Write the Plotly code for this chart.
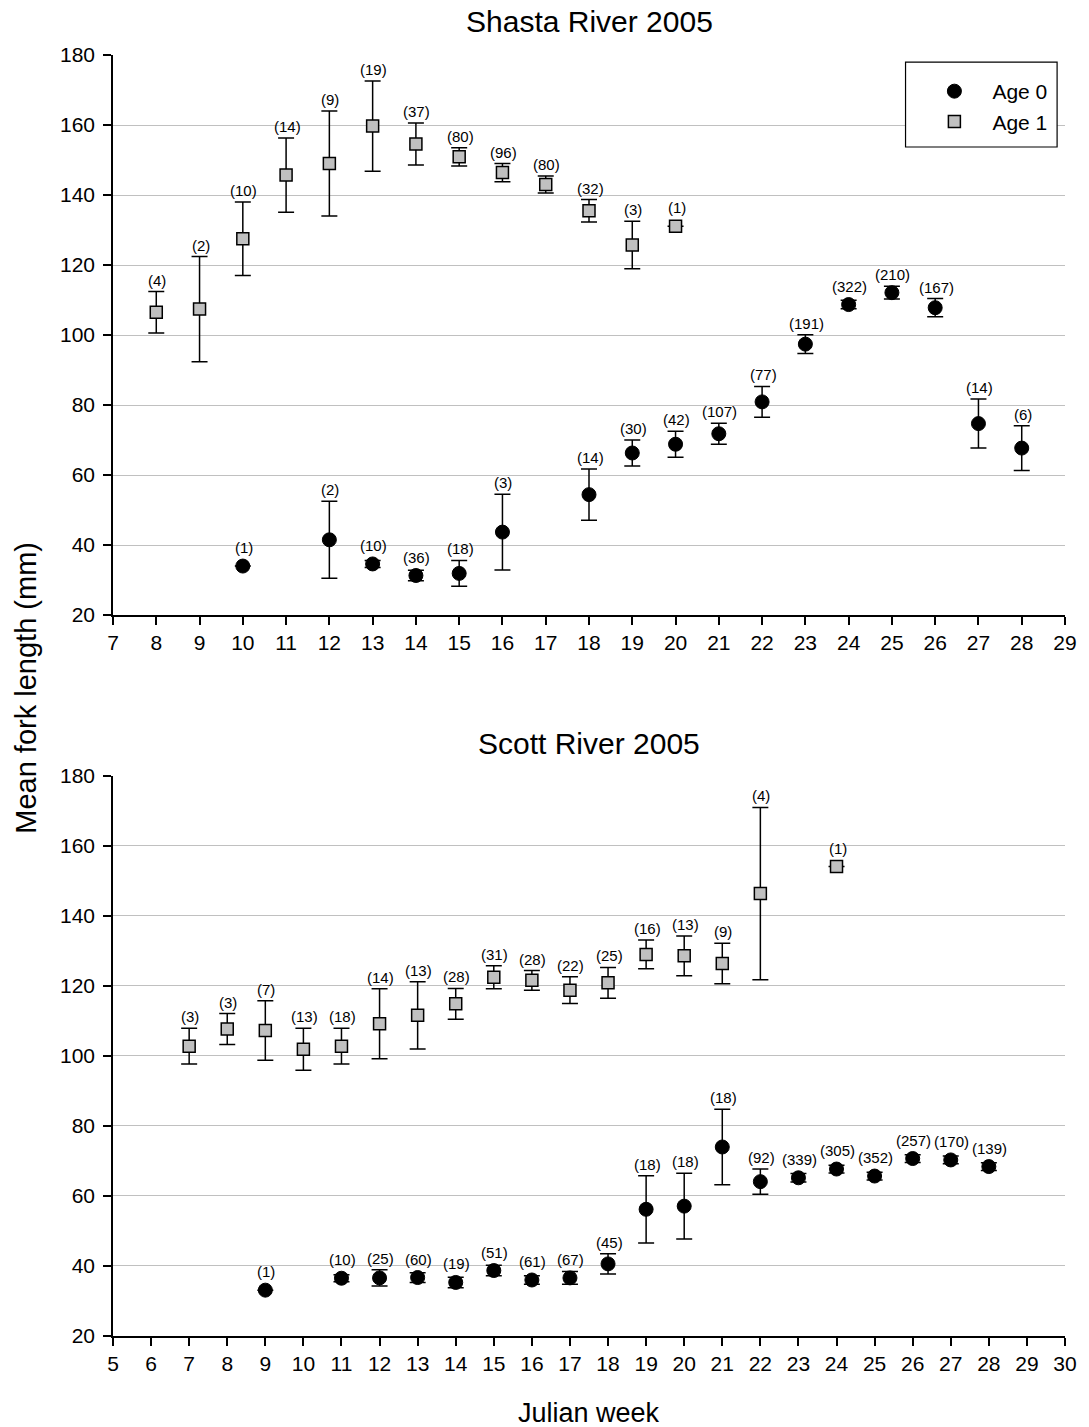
import plotly.graph_objects as go

# ---- Shasta River 2005 ----
shasta_age0_week = [10, 12, 13, 14, 15, 16, 18, 19, 20, 21, 22, 23, 24, 25, 26, 27, 28]
shasta_age0_mean = [34.0, 41.5, 34.6, 31.3, 31.9, 43.7, 54.4, 66.3, 68.8, 71.8, 80.9, 97.4, 108.7, 112.1, 107.8, 74.7, 67.7]
shasta_age0_err = [None, 11.0, 1.0, 1.5, 3.7, 10.8, 7.3, 3.7, 3.7, 3.0, 4.4, 2.7, 1.2, 1.8, 2.6, 7.0, 6.4]
shasta_age0_n = [1, 2, 10, 36, 18, 3, 14, 30, 42, 107, 77, 191, 322, 210, 167, 14, 6]

shasta_age1_week = [8, 9, 10, 11, 12, 13, 14, 15, 16, 17, 18, 19, 20]
shasta_age1_mean = [106.5, 107.4, 127.5, 145.7, 149.0, 159.7, 154.6, 150.9, 146.4, 143.0, 135.5, 125.7, 131.1]
shasta_age1_err = [5.9, 15.0, 10.5, 10.6, 15.0, 12.9, 6.0, 2.6, 2.6, 2.4, 3.2, 6.8, None]
shasta_age1_n = [4, 2, 10, 14, 9, 19, 37, 80, 96, 80, 32, 3, 1]

# ---- Scott River 2005 ----
scott_age0_week = [9, 11, 12, 13, 14, 15, 16, 17, 18, 19, 20, 21, 22, 23, 24, 25, 26, 27, 28]
scott_age0_mean = [33.1, 36.5, 36.6, 36.7, 35.3, 38.7, 36.0, 36.6, 40.6, 56.2, 57.1, 74.0, 64.1, 65.2, 67.7, 65.7, 70.7, 70.3, 68.4]
scott_age0_err = [None, 1.0, 2.3, 1.4, 1.5, 1.5, 1.2, 1.8, 2.9, 9.6, 9.4, 10.8, 3.6, 1.2, 1.1, 1.1, 1.1, 1.1, 1.1]
scott_age0_n = [1, 10, 25, 60, 19, 51, 61, 67, 45, 18, 18, 18, 92, 339, 305, 352, 257, 170, 139]

scott_age1_week = [7, 8, 9, 10, 11, 12, 13, 14, 15, 16, 17, 18, 19, 20, 21, 22, 24]
scott_age1_mean = [102.8, 107.7, 107.3, 101.9, 102.8, 109.2, 111.6, 114.9, 122.5, 121.6, 118.8, 120.9, 129.0, 128.6, 126.4, 146.4, 154.1]
scott_age1_err = [5.1, 4.4, 8.5, 6.0, 5.1, 10.0, 9.6, 4.4, 3.3, 2.8, 3.8, 4.4, 4.1, 5.7, 5.8, 24.6, None]
scott_age1_n = [3, 3, 7, 13, 18, 14, 13, 28, 31, 28, 22, 25, 16, 13, 9, 4, 1]

FONT = "Liberation Sans, Arial, sans-serif"
GRID = "#c0c0c0"
CIRCLE = dict(symbol="circle", size=14, color="black", line=dict(color="black", width=1))
SQUARE = dict(symbol="square", size=12, color="#c0c0c0", line=dict(color="black", width=1.5))
# half marker height expressed in axis units (3.5 px per mm on both panels)
MARKER_HALF = 2.0

fig = go.Figure()


def add_series(weeks, means, errs, marker, name, xa, ya, legend):
    fig.add_trace(go.Scatter(
        x=weeks, y=means, mode="markers", name=name, marker=marker,
        error_y=dict(type="data", array=errs, symmetric=True, visible=True,
                     color="black", thickness=1.5, width=8),
        xaxis=xa, yaxis=ya, showlegend=legend, cliponaxis=False,
    ))


def add_counts(weeks, means, errs, counts, xref, yref):
    for w, m, e, n in zip(weeks, means, errs, counts):
        top = m + max(e or 0, MARKER_HALF)
        fig.add_annotation(x=w, y=top, xref=xref, yref=yref, text=f"({n})",
                           showarrow=False, yanchor="bottom", yshift=1, xshift=1,
                           font=dict(family=FONT, size=15, color="black"))


add_series(shasta_age0_week, shasta_age0_mean, shasta_age0_err, CIRCLE, "Age 0", "x", "y", True)
add_series(shasta_age1_week, shasta_age1_mean, shasta_age1_err, SQUARE, "Age 1", "x", "y", True)
add_series(scott_age0_week, scott_age0_mean, scott_age0_err, CIRCLE, "Age 0", "x2", "y2", False)
add_series(scott_age1_week, scott_age1_mean, scott_age1_err, SQUARE, "Age 1", "x2", "y2", False)

add_counts(shasta_age0_week, shasta_age0_mean, shasta_age0_err, shasta_age0_n, "x", "y")
add_counts(shasta_age1_week, shasta_age1_mean, shasta_age1_err, shasta_age1_n, "x", "y")
add_counts(scott_age0_week, scott_age0_mean, scott_age0_err, scott_age0_n, "x2", "y2")
add_counts(scott_age1_week, scott_age1_mean, scott_age1_err, scott_age1_n, "x2", "y2")

xcommon = dict(showline=True, linecolor="black", linewidth=1.5, ticks="outside",
               ticklen=8, tickwidth=1.5, tickcolor="black", dtick=1, showgrid=False,
               zeroline=False, tickfont=dict(family=FONT, size=21, color="black"))
ycommon = dict(range=[20, 180], dtick=20, tick0=20, showline=True, linecolor="black",
               linewidth=1.5, ticks="outside", ticklen=8, tickwidth=1.5, tickcolor="black",
               showgrid=True, gridcolor=GRID, gridwidth=1, zeroline=False,
               tickfont=dict(family=FONT, size=21, color="black"), ticklabelstandoff=4)

top_dom = [0.5628, 1.0]
bot_dom = [0.0, 0.4372]

fig.update_layout(
    width=1089, height=1427,
    margin=dict(l=113, r=15, t=55, b=91),
    paper_bgcolor="white", plot_bgcolor="white",
    font=dict(family=FONT, color="black"),
    xaxis=dict(xcommon, range=[7, 29], domain=[0, 1], anchor="y", tick0=7),
    yaxis=dict(ycommon, domain=top_dom, anchor="x"),
    xaxis2=dict(xcommon, range=[5, 30], domain=[0, 1], anchor="y2", tick0=5),
    yaxis2=dict(ycommon, domain=bot_dom, anchor="x2"),
    legend=dict(x=0.8439, y=0.9875, xanchor="left", yanchor="top",
                bgcolor="rgba(0,0,0,0)", borderwidth=0, itemwidth=66,
                font=dict(family=FONT, size=21, color="black"),
                itemsizing="trace", tracegroupgap=0),
)

# framed box behind the legend entries
fig.add_shape(type="rect", xref="paper", yref="paper",
              x0=0.8325, x1=0.9917, y0=0.9282, y1=0.9945,
              line=dict(color="black", width=1.2), fillcolor="white", layer="above")

# panel titles and shared axis titles
fig.add_annotation(text="Shasta River 2005", xref="paper", yref="paper", x=0.5, y=1.0258,
                   showarrow=False, xanchor="center", yanchor="middle",
                   font=dict(family=FONT, size=30, color="black"))
fig.add_annotation(text="Scott River 2005", xref="paper", yref="paper", x=0.5, y=0.4629,
                   showarrow=False, xanchor="center", yanchor="middle",
                   font=dict(family=FONT, size=30, color="black"))
fig.add_annotation(text="Mean fork length (mm)", xref="paper", yref="paper", x=-0.0916, y=0.5059,
                   showarrow=False, xanchor="center", yanchor="middle", textangle=-90,
                   font=dict(family=FONT, size=29, color="black"))
fig.add_annotation(text="Julian week", xref="paper", yref="paper", x=0.5, y=-0.0601,
                   showarrow=False, xanchor="center", yanchor="middle",
                   font=dict(family=FONT, size=27, color="black"))

fig.write_html("out.html")
